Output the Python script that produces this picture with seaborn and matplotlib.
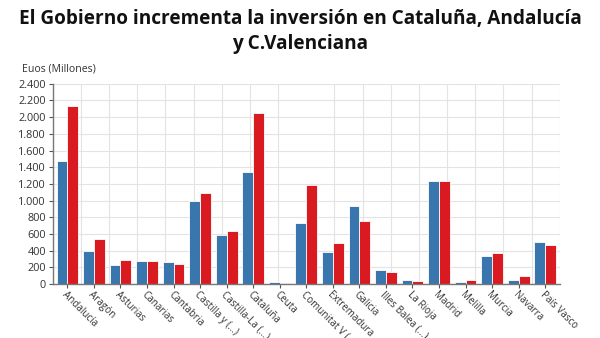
import numpy as np
import pandas as pd
import matplotlib
matplotlib.use("Agg")
import matplotlib.pyplot as plt
import seaborn as sns
from matplotlib.ticker import FuncFormatter
from matplotlib import font_manager as fm

categories = ["Andalucía", "Aragón", "Asturias", "Canarias", "Cantabria",
              "Castilla y (...)", "Castilla-La (...)", "Cataluña", "Ceuta",
              "Comunitat V (...)", "Extremadura", "Galicia", "Illes Balea (...)",
              "La Rioja", "Madrid", "Melilla", "Murcia", "Navarra", "País Vasco"]
serie_a = [1470, 400, 225, 275, 268, 1000, 588, 1345, 20, 735, 380, 930, 163,
           52, 1240, 24, 332, 48, 500]
serie_b = [2130, 538, 290, 275, 243, 1090, 630, 2048, 12, 1182, 486, 752, 147,
           30, 1240, 42, 365, 98, 462]
series_names = ["Anterior", "Actual"]
yticks = list(range(0, 2401, 200))

df = pd.DataFrame({
    "cat": categories * 2,
    "val": serie_a + serie_b,
    "serie": [series_names[0]] * len(categories) + [series_names[1]] * len(categories),
})


def open_sans(weight):
    for f in fm.fontManager.ttflist:
        if (f.name == "Open Sans" and f.weight == weight and f.stretch == "normal"
                and f.style == "normal"):
            return fm.FontProperties(fname=f.fname)
    return fm.FontProperties(family=["Open Sans", "DejaVu Sans"], weight=weight)


fp_reg = open_sans(400)
fp_bold = open_sans(700)

sns.set_theme(style="white")
plt.rcParams["font.family"] = ["Open Sans", "DejaVu Sans"]

fig = plt.figure(figsize=(6, 3.38), dpi=100)
ax = fig.add_axes([0.088, 0.16, 0.845, 0.592])

sns.barplot(data=df, x="cat", y="val", hue="serie",
            palette=["#3a76ae", "#d91b21"], saturation=1, width=0.82,
            edgecolor="white", linewidth=0.6, legend=False, ax=ax)

ax.set_ylim(0, 2400)
ax.set_xlim(-0.55, len(categories) - 0.45)
ax.set_yticks(yticks)
ax.yaxis.set_major_formatter(FuncFormatter(lambda v, p: f"{int(v):,}".replace(",", ".")))
ax.set_xlabel("")
ax.set_ylabel("")

xmin, xmax = ax.get_xlim()
ax.set_xticks(np.linspace(xmin, xmax, 19), minor=True)
ax.grid(axis="y", which="major", color="#e3e3e3", linewidth=0.8)
ax.grid(axis="x", which="minor", color="#e3e3e3", linewidth=0.8)
ax.set_axisbelow(True)

for s in ["top", "right"]:
    ax.spines[s].set_visible(False)
for s in ["left", "bottom"]:
    ax.spines[s].set_color("#777777")
    ax.spines[s].set_linestyle((0, (1, 1)))
    ax.spines[s].set_linewidth(1)

ax.tick_params(axis="y", which="major", length=3, width=0.8, color="#555555",
               labelcolor="#333333", left=True, pad=2)
ax.tick_params(axis="x", which="major", length=3, width=0.8, color="#555555",
               labelcolor="#333333", bottom=True, pad=1)
ax.tick_params(axis="x", which="minor", length=0)
for lab in ax.get_yticklabels():
    lab.set_fontproperties(fp_reg)
    lab.set_fontsize(7.8)
for lab in ax.get_xticklabels():
    lab.set_fontproperties(fp_reg)
    lab.set_fontsize(7.1)
plt.setp(ax.get_xticklabels(), rotation=-45, ha="left", rotation_mode="anchor")

fig.text(0.5, 0.972, "El Gobierno incrementa la inversión en Cataluña, Andalucía\ny C.Valenciana",
         ha="center", va="top", fontproperties=fp_bold, fontsize=13.7, color="#111111",
         linespacing=1.3)
fig.text(0.036, 0.795, "Euos (Millones)", ha="left", va="center", fontproperties=fp_reg,
         fontsize=7.6, color="#333333")

fig.savefig("out.png", dpi=100)
